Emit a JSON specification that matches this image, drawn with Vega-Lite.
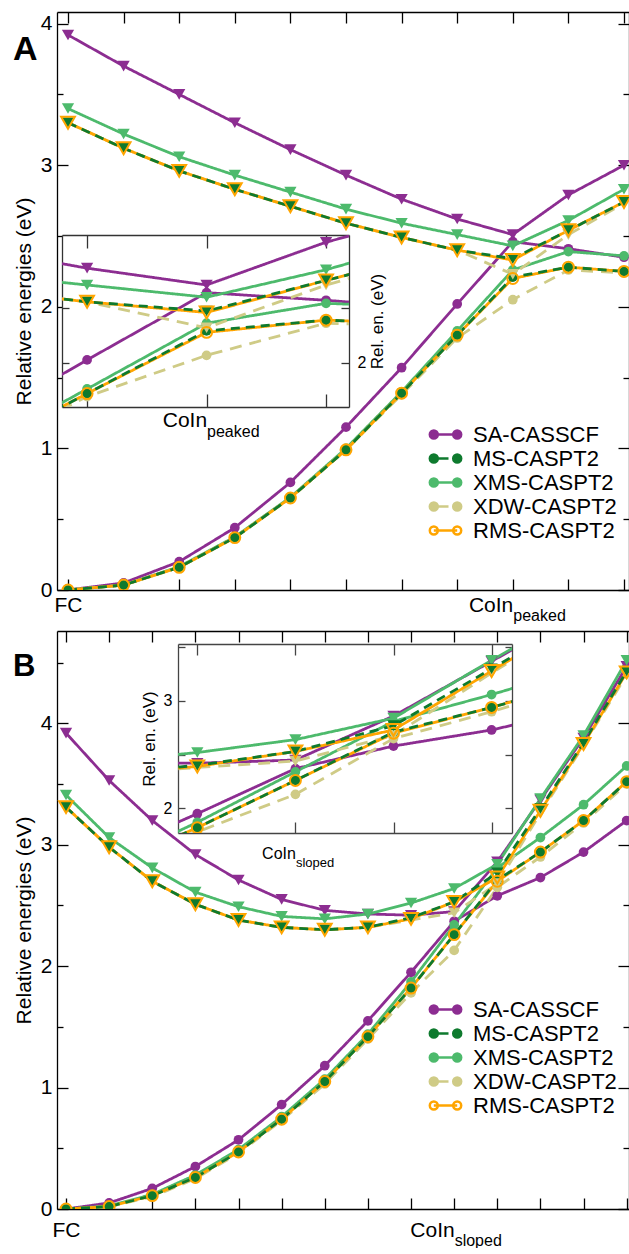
{
"$schema":"https://vega.github.io/schema/vega-lite/v6.json",
"padding":{"left":13,"top":11,"right":0,"bottom":0},
"config":{
 "view":{"stroke":null},
 "font":"Liberation Sans",
 "axis":{"grid":false,"domainColor":"#000","domainWidth":1.3,"tickColor":"#000","tickWidth":1.3,"labelColor":"#000","titleColor":"#000","labelFont":"Liberation Sans","titleFont":"Liberation Sans","titleFontWeight":"normal","labelFlush":false,"labelOverlap":false},
 "legend":{"labelFont":"Liberation Sans"},
 "title":{"font":"Liberation Sans"}
},
"datasets":{"d":[
{"p":"A","m":"SA-CASSCF","s":"up","i":0,"v":3.92},{"p":"A","m":"SA-CASSCF","s":"up","i":1,"v":3.70},{"p":"A","m":"SA-CASSCF","s":"up","i":2,"v":3.50},{"p":"A","m":"SA-CASSCF","s":"up","i":3,"v":3.30},{"p":"A","m":"SA-CASSCF","s":"up","i":4,"v":3.11},{"p":"A","m":"SA-CASSCF","s":"up","i":5,"v":2.93},{"p":"A","m":"SA-CASSCF","s":"up","i":6,"v":2.76},{"p":"A","m":"SA-CASSCF","s":"up","i":7,"v":2.62},{"p":"A","m":"SA-CASSCF","s":"up","i":8,"v":2.51},{"p":"A","m":"SA-CASSCF","s":"up","i":9,"v":2.79},{"p":"A","m":"SA-CASSCF","s":"up","i":10,"v":3.00},
{"p":"A","m":"SA-CASSCF","s":"lo","i":0,"v":0},{"p":"A","m":"SA-CASSCF","s":"lo","i":1,"v":0.05},{"p":"A","m":"SA-CASSCF","s":"lo","i":2,"v":0.20},{"p":"A","m":"SA-CASSCF","s":"lo","i":3,"v":0.44},{"p":"A","m":"SA-CASSCF","s":"lo","i":4,"v":0.76},{"p":"A","m":"SA-CASSCF","s":"lo","i":5,"v":1.15},{"p":"A","m":"SA-CASSCF","s":"lo","i":6,"v":1.57},{"p":"A","m":"SA-CASSCF","s":"lo","i":7,"v":2.02},{"p":"A","m":"SA-CASSCF","s":"lo","i":8,"v":2.46},{"p":"A","m":"SA-CASSCF","s":"lo","i":9,"v":2.41},{"p":"A","m":"SA-CASSCF","s":"lo","i":10,"v":2.35},
{"p":"A","m":"XMS-CASPT2","s":"up","i":0,"v":3.40},{"p":"A","m":"XMS-CASPT2","s":"up","i":1,"v":3.22},{"p":"A","m":"XMS-CASPT2","s":"up","i":2,"v":3.06},{"p":"A","m":"XMS-CASPT2","s":"up","i":3,"v":2.93},{"p":"A","m":"XMS-CASPT2","s":"up","i":4,"v":2.81},{"p":"A","m":"XMS-CASPT2","s":"up","i":5,"v":2.69},{"p":"A","m":"XMS-CASPT2","s":"up","i":6,"v":2.59},{"p":"A","m":"XMS-CASPT2","s":"up","i":7,"v":2.51},{"p":"A","m":"XMS-CASPT2","s":"up","i":8,"v":2.43},{"p":"A","m":"XMS-CASPT2","s":"up","i":9,"v":2.61},{"p":"A","m":"XMS-CASPT2","s":"up","i":10,"v":2.83},
{"p":"A","m":"XMS-CASPT2","s":"lo","i":0,"v":0},{"p":"A","m":"XMS-CASPT2","s":"lo","i":1,"v":0.035},{"p":"A","m":"XMS-CASPT2","s":"lo","i":2,"v":0.165},{"p":"A","m":"XMS-CASPT2","s":"lo","i":3,"v":0.375},{"p":"A","m":"XMS-CASPT2","s":"lo","i":4,"v":0.655},{"p":"A","m":"XMS-CASPT2","s":"lo","i":5,"v":1.00},{"p":"A","m":"XMS-CASPT2","s":"lo","i":6,"v":1.40},{"p":"A","m":"XMS-CASPT2","s":"lo","i":7,"v":1.83},{"p":"A","m":"XMS-CASPT2","s":"lo","i":8,"v":2.26},{"p":"A","m":"XMS-CASPT2","s":"lo","i":9,"v":2.39},{"p":"A","m":"XMS-CASPT2","s":"lo","i":10,"v":2.36},
{"p":"A","m":"XDW-CASPT2","s":"up","i":0,"v":3.30},{"p":"A","m":"XDW-CASPT2","s":"up","i":1,"v":3.12},{"p":"A","m":"XDW-CASPT2","s":"up","i":2,"v":2.96},{"p":"A","m":"XDW-CASPT2","s":"up","i":3,"v":2.83},{"p":"A","m":"XDW-CASPT2","s":"up","i":4,"v":2.71},{"p":"A","m":"XDW-CASPT2","s":"up","i":5,"v":2.59},{"p":"A","m":"XDW-CASPT2","s":"up","i":6,"v":2.49},{"p":"A","m":"XDW-CASPT2","s":"up","i":7,"v":2.40},{"p":"A","m":"XDW-CASPT2","s":"up","i":8,"v":2.23},{"p":"A","m":"XDW-CASPT2","s":"up","i":9,"v":2.51},{"p":"A","m":"XDW-CASPT2","s":"up","i":10,"v":2.73},
{"p":"A","m":"XDW-CASPT2","s":"lo","i":0,"v":0},{"p":"A","m":"XDW-CASPT2","s":"lo","i":1,"v":0.035},{"p":"A","m":"XDW-CASPT2","s":"lo","i":2,"v":0.16},{"p":"A","m":"XDW-CASPT2","s":"lo","i":3,"v":0.37},{"p":"A","m":"XDW-CASPT2","s":"lo","i":4,"v":0.65},{"p":"A","m":"XDW-CASPT2","s":"lo","i":5,"v":0.99},{"p":"A","m":"XDW-CASPT2","s":"lo","i":6,"v":1.38},{"p":"A","m":"XDW-CASPT2","s":"lo","i":7,"v":1.78},{"p":"A","m":"XDW-CASPT2","s":"lo","i":8,"v":2.05},{"p":"A","m":"XDW-CASPT2","s":"lo","i":9,"v":2.26},{"p":"A","m":"XDW-CASPT2","s":"lo","i":10,"v":2.24},
{"p":"A","m":"RMS-CASPT2","s":"up","i":0,"v":3.30},{"p":"A","m":"RMS-CASPT2","s":"up","i":1,"v":3.12},{"p":"A","m":"RMS-CASPT2","s":"up","i":2,"v":2.96},{"p":"A","m":"RMS-CASPT2","s":"up","i":3,"v":2.83},{"p":"A","m":"RMS-CASPT2","s":"up","i":4,"v":2.71},{"p":"A","m":"RMS-CASPT2","s":"up","i":5,"v":2.59},{"p":"A","m":"RMS-CASPT2","s":"up","i":6,"v":2.49},{"p":"A","m":"RMS-CASPT2","s":"up","i":7,"v":2.40},{"p":"A","m":"RMS-CASPT2","s":"up","i":8,"v":2.33},{"p":"A","m":"RMS-CASPT2","s":"up","i":9,"v":2.54},{"p":"A","m":"RMS-CASPT2","s":"up","i":10,"v":2.74},
{"p":"A","m":"RMS-CASPT2","s":"lo","i":0,"v":0},{"p":"A","m":"RMS-CASPT2","s":"lo","i":1,"v":0.035},{"p":"A","m":"RMS-CASPT2","s":"lo","i":2,"v":0.16},{"p":"A","m":"RMS-CASPT2","s":"lo","i":3,"v":0.37},{"p":"A","m":"RMS-CASPT2","s":"lo","i":4,"v":0.65},{"p":"A","m":"RMS-CASPT2","s":"lo","i":5,"v":0.99},{"p":"A","m":"RMS-CASPT2","s":"lo","i":6,"v":1.39},{"p":"A","m":"RMS-CASPT2","s":"lo","i":7,"v":1.80},{"p":"A","m":"RMS-CASPT2","s":"lo","i":8,"v":2.20},{"p":"A","m":"RMS-CASPT2","s":"lo","i":9,"v":2.28},{"p":"A","m":"RMS-CASPT2","s":"lo","i":10,"v":2.25},
{"p":"A","m":"MS-CASPT2","s":"up","i":0,"v":3.30},{"p":"A","m":"MS-CASPT2","s":"up","i":1,"v":3.12},{"p":"A","m":"MS-CASPT2","s":"up","i":2,"v":2.96},{"p":"A","m":"MS-CASPT2","s":"up","i":3,"v":2.83},{"p":"A","m":"MS-CASPT2","s":"up","i":4,"v":2.71},{"p":"A","m":"MS-CASPT2","s":"up","i":5,"v":2.59},{"p":"A","m":"MS-CASPT2","s":"up","i":6,"v":2.49},{"p":"A","m":"MS-CASPT2","s":"up","i":7,"v":2.40},{"p":"A","m":"MS-CASPT2","s":"up","i":8,"v":2.34},{"p":"A","m":"MS-CASPT2","s":"up","i":9,"v":2.54},{"p":"A","m":"MS-CASPT2","s":"up","i":10,"v":2.74},
{"p":"A","m":"MS-CASPT2","s":"lo","i":0,"v":0},{"p":"A","m":"MS-CASPT2","s":"lo","i":1,"v":0.035},{"p":"A","m":"MS-CASPT2","s":"lo","i":2,"v":0.16},{"p":"A","m":"MS-CASPT2","s":"lo","i":3,"v":0.37},{"p":"A","m":"MS-CASPT2","s":"lo","i":4,"v":0.65},{"p":"A","m":"MS-CASPT2","s":"lo","i":5,"v":0.99},{"p":"A","m":"MS-CASPT2","s":"lo","i":6,"v":1.39},{"p":"A","m":"MS-CASPT2","s":"lo","i":7,"v":1.80},{"p":"A","m":"MS-CASPT2","s":"lo","i":8,"v":2.21},{"p":"A","m":"MS-CASPT2","s":"lo","i":9,"v":2.28},{"p":"A","m":"MS-CASPT2","s":"lo","i":10,"v":2.25},
{"p":"B","m":"SA-CASSCF","s":"up","i":0,"v":3.92},{"p":"B","m":"SA-CASSCF","s":"up","i":1,"v":3.53},{"p":"B","m":"SA-CASSCF","s":"up","i":2,"v":3.20},{"p":"B","m":"SA-CASSCF","s":"up","i":3,"v":2.92},{"p":"B","m":"SA-CASSCF","s":"up","i":4,"v":2.71},{"p":"B","m":"SA-CASSCF","s":"up","i":5,"v":2.55},{"p":"B","m":"SA-CASSCF","s":"up","i":6,"v":2.46},{"p":"B","m":"SA-CASSCF","s":"up","i":7,"v":2.43},{"p":"B","m":"SA-CASSCF","s":"up","i":8,"v":2.42},{"p":"B","m":"SA-CASSCF","s":"up","i":9,"v":2.45},{"p":"B","m":"SA-CASSCF","s":"up","i":10,"v":2.86},{"p":"B","m":"SA-CASSCF","s":"up","i":11,"v":3.37},{"p":"B","m":"SA-CASSCF","s":"up","i":12,"v":3.88},{"p":"B","m":"SA-CASSCF","s":"up","i":13,"v":4.47},
{"p":"B","m":"SA-CASSCF","s":"lo","i":0,"v":0},{"p":"B","m":"SA-CASSCF","s":"lo","i":1,"v":0.05},{"p":"B","m":"SA-CASSCF","s":"lo","i":2,"v":0.17},{"p":"B","m":"SA-CASSCF","s":"lo","i":3,"v":0.35},{"p":"B","m":"SA-CASSCF","s":"lo","i":4,"v":0.57},{"p":"B","m":"SA-CASSCF","s":"lo","i":5,"v":0.86},{"p":"B","m":"SA-CASSCF","s":"lo","i":6,"v":1.18},{"p":"B","m":"SA-CASSCF","s":"lo","i":7,"v":1.55},{"p":"B","m":"SA-CASSCF","s":"lo","i":8,"v":1.95},{"p":"B","m":"SA-CASSCF","s":"lo","i":9,"v":2.37},{"p":"B","m":"SA-CASSCF","s":"lo","i":10,"v":2.58},{"p":"B","m":"SA-CASSCF","s":"lo","i":11,"v":2.73},{"p":"B","m":"SA-CASSCF","s":"lo","i":12,"v":2.94},{"p":"B","m":"SA-CASSCF","s":"lo","i":13,"v":3.20},
{"p":"B","m":"XMS-CASPT2","s":"up","i":0,"v":3.41},{"p":"B","m":"XMS-CASPT2","s":"up","i":1,"v":3.06},{"p":"B","m":"XMS-CASPT2","s":"up","i":2,"v":2.81},{"p":"B","m":"XMS-CASPT2","s":"up","i":3,"v":2.61},{"p":"B","m":"XMS-CASPT2","s":"up","i":4,"v":2.49},{"p":"B","m":"XMS-CASPT2","s":"up","i":5,"v":2.41},{"p":"B","m":"XMS-CASPT2","s":"up","i":6,"v":2.39},{"p":"B","m":"XMS-CASPT2","s":"up","i":7,"v":2.43},{"p":"B","m":"XMS-CASPT2","s":"up","i":8,"v":2.52},{"p":"B","m":"XMS-CASPT2","s":"up","i":9,"v":2.64},{"p":"B","m":"XMS-CASPT2","s":"up","i":10,"v":2.84},{"p":"B","m":"XMS-CASPT2","s":"up","i":11,"v":3.38},{"p":"B","m":"XMS-CASPT2","s":"up","i":12,"v":3.90},{"p":"B","m":"XMS-CASPT2","s":"up","i":13,"v":4.52},
{"p":"B","m":"XMS-CASPT2","s":"lo","i":0,"v":0},{"p":"B","m":"XMS-CASPT2","s":"lo","i":1,"v":0.025},{"p":"B","m":"XMS-CASPT2","s":"lo","i":2,"v":0.12},{"p":"B","m":"XMS-CASPT2","s":"lo","i":3,"v":0.28},{"p":"B","m":"XMS-CASPT2","s":"lo","i":4,"v":0.49},{"p":"B","m":"XMS-CASPT2","s":"lo","i":5,"v":0.76},{"p":"B","m":"XMS-CASPT2","s":"lo","i":6,"v":1.07},{"p":"B","m":"XMS-CASPT2","s":"lo","i":7,"v":1.44},{"p":"B","m":"XMS-CASPT2","s":"lo","i":8,"v":1.87},{"p":"B","m":"XMS-CASPT2","s":"lo","i":9,"v":2.34},{"p":"B","m":"XMS-CASPT2","s":"lo","i":10,"v":2.81},{"p":"B","m":"XMS-CASPT2","s":"lo","i":11,"v":3.06},{"p":"B","m":"XMS-CASPT2","s":"lo","i":12,"v":3.33},{"p":"B","m":"XMS-CASPT2","s":"lo","i":13,"v":3.65},
{"p":"B","m":"XDW-CASPT2","s":"up","i":0,"v":3.31},{"p":"B","m":"XDW-CASPT2","s":"up","i":1,"v":2.98},{"p":"B","m":"XDW-CASPT2","s":"up","i":2,"v":2.70},{"p":"B","m":"XDW-CASPT2","s":"up","i":3,"v":2.51},{"p":"B","m":"XDW-CASPT2","s":"up","i":4,"v":2.38},{"p":"B","m":"XDW-CASPT2","s":"up","i":5,"v":2.32},{"p":"B","m":"XDW-CASPT2","s":"up","i":6,"v":2.30},{"p":"B","m":"XDW-CASPT2","s":"up","i":7,"v":2.32},{"p":"B","m":"XDW-CASPT2","s":"up","i":8,"v":2.38},{"p":"B","m":"XDW-CASPT2","s":"up","i":9,"v":2.44},{"p":"B","m":"XDW-CASPT2","s":"up","i":10,"v":2.68},{"p":"B","m":"XDW-CASPT2","s":"up","i":11,"v":3.26},{"p":"B","m":"XDW-CASPT2","s":"up","i":12,"v":3.82},{"p":"B","m":"XDW-CASPT2","s":"up","i":13,"v":4.40},
{"p":"B","m":"XDW-CASPT2","s":"lo","i":0,"v":0},{"p":"B","m":"XDW-CASPT2","s":"lo","i":1,"v":0.02},{"p":"B","m":"XDW-CASPT2","s":"lo","i":2,"v":0.10},{"p":"B","m":"XDW-CASPT2","s":"lo","i":3,"v":0.25},{"p":"B","m":"XDW-CASPT2","s":"lo","i":4,"v":0.46},{"p":"B","m":"XDW-CASPT2","s":"lo","i":5,"v":0.73},{"p":"B","m":"XDW-CASPT2","s":"lo","i":6,"v":1.03},{"p":"B","m":"XDW-CASPT2","s":"lo","i":7,"v":1.40},{"p":"B","m":"XDW-CASPT2","s":"lo","i":8,"v":1.78},{"p":"B","m":"XDW-CASPT2","s":"lo","i":9,"v":2.13},{"p":"B","m":"XDW-CASPT2","s":"lo","i":10,"v":2.65},{"p":"B","m":"XDW-CASPT2","s":"lo","i":11,"v":2.90},{"p":"B","m":"XDW-CASPT2","s":"lo","i":12,"v":3.18},{"p":"B","m":"XDW-CASPT2","s":"lo","i":13,"v":3.50},
{"p":"B","m":"RMS-CASPT2","s":"up","i":0,"v":3.31},{"p":"B","m":"RMS-CASPT2","s":"up","i":1,"v":2.98},{"p":"B","m":"RMS-CASPT2","s":"up","i":2,"v":2.70},{"p":"B","m":"RMS-CASPT2","s":"up","i":3,"v":2.51},{"p":"B","m":"RMS-CASPT2","s":"up","i":4,"v":2.38},{"p":"B","m":"RMS-CASPT2","s":"up","i":5,"v":2.32},{"p":"B","m":"RMS-CASPT2","s":"up","i":6,"v":2.30},{"p":"B","m":"RMS-CASPT2","s":"up","i":7,"v":2.32},{"p":"B","m":"RMS-CASPT2","s":"up","i":8,"v":2.39},{"p":"B","m":"RMS-CASPT2","s":"up","i":9,"v":2.53},{"p":"B","m":"RMS-CASPT2","s":"up","i":10,"v":2.73},{"p":"B","m":"RMS-CASPT2","s":"up","i":11,"v":3.28},{"p":"B","m":"RMS-CASPT2","s":"up","i":12,"v":3.83},{"p":"B","m":"RMS-CASPT2","s":"up","i":13,"v":4.42},
{"p":"B","m":"RMS-CASPT2","s":"lo","i":0,"v":0},{"p":"B","m":"RMS-CASPT2","s":"lo","i":1,"v":0.02},{"p":"B","m":"RMS-CASPT2","s":"lo","i":2,"v":0.11},{"p":"B","m":"RMS-CASPT2","s":"lo","i":3,"v":0.26},{"p":"B","m":"RMS-CASPT2","s":"lo","i":4,"v":0.47},{"p":"B","m":"RMS-CASPT2","s":"lo","i":5,"v":0.74},{"p":"B","m":"RMS-CASPT2","s":"lo","i":6,"v":1.05},{"p":"B","m":"RMS-CASPT2","s":"lo","i":7,"v":1.42},{"p":"B","m":"RMS-CASPT2","s":"lo","i":8,"v":1.82},{"p":"B","m":"RMS-CASPT2","s":"lo","i":9,"v":2.26},{"p":"B","m":"RMS-CASPT2","s":"lo","i":10,"v":2.70},{"p":"B","m":"RMS-CASPT2","s":"lo","i":11,"v":2.94},{"p":"B","m":"RMS-CASPT2","s":"lo","i":12,"v":3.20},{"p":"B","m":"RMS-CASPT2","s":"lo","i":13,"v":3.52},
{"p":"B","m":"MS-CASPT2","s":"up","i":0,"v":3.31},{"p":"B","m":"MS-CASPT2","s":"up","i":1,"v":2.98},{"p":"B","m":"MS-CASPT2","s":"up","i":2,"v":2.70},{"p":"B","m":"MS-CASPT2","s":"up","i":3,"v":2.51},{"p":"B","m":"MS-CASPT2","s":"up","i":4,"v":2.38},{"p":"B","m":"MS-CASPT2","s":"up","i":5,"v":2.32},{"p":"B","m":"MS-CASPT2","s":"up","i":6,"v":2.30},{"p":"B","m":"MS-CASPT2","s":"up","i":7,"v":2.32},{"p":"B","m":"MS-CASPT2","s":"up","i":8,"v":2.40},{"p":"B","m":"MS-CASPT2","s":"up","i":9,"v":2.53},{"p":"B","m":"MS-CASPT2","s":"up","i":10,"v":2.77},{"p":"B","m":"MS-CASPT2","s":"up","i":11,"v":3.30},{"p":"B","m":"MS-CASPT2","s":"up","i":12,"v":3.84},{"p":"B","m":"MS-CASPT2","s":"up","i":13,"v":4.43},
{"p":"B","m":"MS-CASPT2","s":"lo","i":0,"v":0},{"p":"B","m":"MS-CASPT2","s":"lo","i":1,"v":0.02},{"p":"B","m":"MS-CASPT2","s":"lo","i":2,"v":0.11},{"p":"B","m":"MS-CASPT2","s":"lo","i":3,"v":0.26},{"p":"B","m":"MS-CASPT2","s":"lo","i":4,"v":0.47},{"p":"B","m":"MS-CASPT2","s":"lo","i":5,"v":0.74},{"p":"B","m":"MS-CASPT2","s":"lo","i":6,"v":1.05},{"p":"B","m":"MS-CASPT2","s":"lo","i":7,"v":1.42},{"p":"B","m":"MS-CASPT2","s":"lo","i":8,"v":1.82},{"p":"B","m":"MS-CASPT2","s":"lo","i":9,"v":2.26},{"p":"B","m":"MS-CASPT2","s":"lo","i":10,"v":2.71},{"p":"B","m":"MS-CASPT2","s":"lo","i":11,"v":2.94},{"p":"B","m":"MS-CASPT2","s":"lo","i":12,"v":3.20},{"p":"B","m":"MS-CASPT2","s":"lo","i":13,"v":3.52}
]},
"vconcat":[
 {"vconcat":[
  {"vconcat":[
   {"width":572,"height":578,
    "title":{"text":"A","anchor":"start","frame":"group","fontSize":34,"fontWeight":"bold","offset":0,"dx":-44,"dy":83,"baseline":"alphabetic","color":"#000"},
    "data":{"name":"d"},
    "layer":[
     {"transform":[{"filter":"datum.p=='A'"}],
      "mark":{"type":"line","strokeWidth":2.8,"clip":true},
      "encoding":{
       "x":{"field":"i","type":"quantitative","scale":{"domain":[-0.198,10.09],"nice":false,"zero":false},"axis":{"orient":"bottom","values":[0,1,2,3,4,5,6,7,8,9,10],"tickSize":-11,"labelExpr":"datum.value==0?'FC':datum.value==8?'CoIn':''","labelAlign":{"condition":{"test":"datum.value==8","value":"right"},"value":"center"},"labelFontSize":21,"labelPadding":15,"title":null}},
       "y":{"field":"v","type":"quantitative","scale":{"domain":[0,4.082],"nice":false,"zero":false},"axis":{"orient":"left","values":[0,1,2,3,4],"tickSize":-11,"labelFontSize":21,"labelPadding":16,"title":"Relative energies (eV)","titleFontSize":21,"titlePadding":6}},
       "color":{"field":"m","type":"nominal","scale":{"domain":["SA-CASSCF","MS-CASPT2","XMS-CASPT2","XDW-CASPT2","RMS-CASPT2"],"range":["#8C2D91","#0E7A2E","#4DBA6C","#CFCB86","#FFA500"]},"legend":null},
       "strokeDash":{"field":"m","type":"nominal","scale":{"domain":["SA-CASSCF","MS-CASPT2","XMS-CASPT2","XDW-CASPT2","RMS-CASPT2"],"range":[[1,0],[9,6],[1,0],[12,8],[1,0]]},"legend":null},
       "detail":{"field":"s","type":"nominal"}}},
     {"transform":[{"filter":"datum.p=='A'&&datum.s=='lo'&&datum.m!='RMS-CASPT2'"}],
      "mark":{"type":"point","shape":"circle","filled":true,"size":95,"opacity":1,"clip":true},
      "encoding":{
       "x":{"field":"i","type":"quantitative","axis":{"orient":"top","values":[0,1,2,3,4,5,6,7,8,9,10],"tickSize":-11,"labels":false,"title":null}},
       "y":{"field":"v","type":"quantitative","axis":{"orient":"right","values":[0,1,2,3,4],"tickSize":-11,"labels":false,"title":null}},
       "color":{"field":"m","type":"nominal","legend":null}}},
     {"transform":[{"filter":"datum.p=='A'&&datum.s=='up'&&datum.m!='RMS-CASPT2'"}],
      "mark":{"type":"point","shape":"triangle-down","filled":true,"size":150,"opacity":1,"clip":true},
      "encoding":{
       "x":{"field":"i","type":"quantitative","axis":{"orient":"bottom","values":[8],"ticks":false,"domain":false,"labelExpr":"'peaked'","labelAlign":"left","labelBaseline":"alphabetic","labelFontSize":16,"labelPadding":30,"title":null}},
       "y":{"field":"v","type":"quantitative","axis":{"orient":"left","values":[0.5,1.5,2.5,3.5],"tickSize":-6,"labels":false,"domain":false,"title":null}},
       "color":{"field":"m","type":"nominal","legend":null}}},
     {"transform":[{"filter":"datum.p=='A'&&datum.s=='lo'&&datum.m=='RMS-CASPT2'"}],
      "mark":{"type":"point","shape":"circle","filled":false,"size":120,"strokeWidth":2,"opacity":1,"clip":true},
      "encoding":{
       "x":{"field":"i","type":"quantitative","axis":null},
       "y":{"field":"v","type":"quantitative","axis":{"orient":"right","values":[0.5,1.5,2.5,3.5],"tickSize":-6,"labels":false,"domain":false,"title":null}},
       "color":{"field":"m","type":"nominal","legend":null}}},
     {"transform":[{"filter":"datum.p=='A'&&datum.s=='up'&&datum.m=='RMS-CASPT2'"}],
      "mark":{"type":"point","shape":"triangle-down","filled":false,"size":190,"strokeWidth":2,"opacity":1,"clip":true},
      "encoding":{
       "x":{"field":"i","type":"quantitative","axis":null},
       "y":{"field":"v","type":"quantitative","axis":null},
       "color":{"field":"m","type":"nominal","legend":null}}},
     {"transform":[{"filter":"datum.p=='none'"}],
      "mark":{"type":"point","filled":true,"strokeWidth":2.5,"opacity":1},
      "encoding":{
       "stroke":{"field":"m","type":"nominal","scale":{"domain":["SA-CASSCF","MS-CASPT2","XMS-CASPT2","XDW-CASPT2","RMS-CASPT2"],"range":["#8C2D91","#0E7A2E","#4DBA6C","#CFCB86","#FFA500"]},"legend":{"title":null,"orient":"none","legendX":377,"legendY":411,"padding":0,"symbolSize":400,"symbolStrokeWidth":2.5,"labelFontSize":22,"labelOffset":16,"rowPadding":1,"labelColor":"#000"}},
       "fill":{"field":"m","type":"nominal","scale":{"domain":["SA-CASSCF","MS-CASPT2","XMS-CASPT2","XDW-CASPT2","RMS-CASPT2"],"range":["#8C2D91","#0E7A2E","#4DBA6C","#CFCB86","#ffffff"]},"legend":{"title":null,"orient":"none","legendX":377,"legendY":411,"padding":0,"symbolSize":400,"symbolStrokeWidth":2.5,"labelFontSize":22,"labelOffset":16,"rowPadding":1,"labelColor":"#000"}},
       "shape":{"field":"m","type":"nominal","scale":{"domain":["SA-CASSCF","MS-CASPT2","XMS-CASPT2","XDW-CASPT2","RMS-CASPT2"],"range":["M-1.57,0A0.4,0.4,0,1,0,-0.77,0A0.4,0.4,0,1,0,-1.57,0ZM0.77,0A0.4,0.4,0,1,0,1.57,0A0.4,0.4,0,1,0,0.77,0ZM-1.17,0L1.17,0","M-1.57,0A0.4,0.4,0,1,0,-0.77,0A0.4,0.4,0,1,0,-1.57,0ZM0.77,0A0.4,0.4,0,1,0,1.57,0A0.4,0.4,0,1,0,0.77,0ZM-1.17,0L0.3,0","M-1.57,0A0.4,0.4,0,1,0,-0.77,0A0.4,0.4,0,1,0,-1.57,0ZM0.77,0A0.4,0.4,0,1,0,1.57,0A0.4,0.4,0,1,0,0.77,0ZM-1.17,0L1.17,0","M-1.57,0A0.4,0.4,0,1,0,-0.77,0A0.4,0.4,0,1,0,-1.57,0ZM0.77,0A0.4,0.4,0,1,0,1.57,0A0.4,0.4,0,1,0,0.77,0ZM-1.17,0L0.3,0","M-1.57,0A0.4,0.4,0,1,0,-0.77,0A0.4,0.4,0,1,0,-1.57,0ZM0.77,0A0.4,0.4,0,1,0,1.57,0A0.4,0.4,0,1,0,0.77,0ZM-1.17,0L1.17,0"]},"legend":{"title":null,"orient":"none","legendX":377,"legendY":411,"padding":0,"symbolSize":400,"symbolStrokeWidth":2.5,"labelFontSize":22,"labelOffset":16,"rowPadding":1,"labelColor":"#000"}}}}
    ],
    "resolve":{"axis":{"x":"independent","y":"independent"}}
   }
  ],"bounds":"flush"},
  {"vconcat":[
   {"width":5,"height":223,"data":{"values":[]},"mark":{"type":"point","opacity":0}},
   {"hconcat":[
    {"width":5,"height":5,"data":{"values":[]},"mark":{"type":"point","opacity":0}},
    {"width":287,"height":172,
     "view":{"fill":"white"},
     "data":{"name":"d"},
     "layer":[
      {"transform":[{"filter":"datum.p=='A'"}],
       "mark":{"type":"line","strokeWidth":2.8,"clip":true},
       "encoding":{
        "x":{"field":"i","type":"quantitative","scale":{"domain":[6.79,9.192],"nice":false,"zero":false},"axis":{"orient":"bottom","values":[7,8,9],"tickSize":-13,"labelExpr":"datum.value==8?'CoIn':''","labelAlign":"right","labelFontSize":21,"labelPadding":15,"domainColor":"#333","tickColor":"#333","title":null}},
        "y":{"field":"v","type":"quantitative","scale":{"domain":[1.712,2.837],"nice":false,"zero":false},"axis":{"orient":"left","values":[2,2.36],"tickSize":-7,"labels":false,"domainColor":"#333","tickColor":"#333","title":null}},
        "color":{"field":"m","type":"nominal","legend":null},
        "strokeDash":{"field":"m","type":"nominal","legend":null},
        "detail":{"field":"s","type":"nominal"}}},
      {"transform":[{"filter":"datum.p=='A'&&datum.s=='lo'&&datum.m!='RMS-CASPT2'"}],
       "mark":{"type":"point","shape":"circle","filled":true,"size":95,"opacity":1,"clip":true},
       "encoding":{
        "x":{"field":"i","type":"quantitative","axis":{"orient":"top","values":[7,8,9],"tickSize":-13,"labels":false,"domainColor":"#333","tickColor":"#333","title":null}},
        "y":{"field":"v","type":"quantitative","axis":{"orient":"right","values":[2,2.36],"tickSize":-8,"labelExpr":"datum.value==2?'2':''","labelFontSize":16,"labelPadding":16,"domainColor":"#333","tickColor":"#333","title":"Rel. en. (eV)","titleFontSize":17,"titleAngle":270,"titleBaseline":"top","titlePadding":4}},
        "color":{"field":"m","type":"nominal","legend":null}}},
      {"transform":[{"filter":"datum.p=='A'&&datum.s=='up'&&datum.m!='RMS-CASPT2'"}],
       "mark":{"type":"point","shape":"triangle-down","filled":true,"size":150,"opacity":1,"clip":true},
       "encoding":{
        "x":{"field":"i","type":"quantitative","axis":{"orient":"bottom","values":[8],"ticks":false,"domain":false,"labelExpr":"'peaked'","labelAlign":"left","labelBaseline":"alphabetic","labelFontSize":16,"labelPadding":29,"title":null}},
        "y":{"field":"v","type":"quantitative","axis":null},
        "color":{"field":"m","type":"nominal","legend":null}}},
      {"transform":[{"filter":"datum.p=='A'&&datum.s=='lo'&&datum.m=='RMS-CASPT2'"}],
       "mark":{"type":"point","shape":"circle","filled":false,"size":120,"strokeWidth":2,"opacity":1,"clip":true},
       "encoding":{
        "x":{"field":"i","type":"quantitative","axis":null},
        "y":{"field":"v","type":"quantitative","axis":null},
        "color":{"field":"m","type":"nominal","legend":null}}},
      {"transform":[{"filter":"datum.p=='A'&&datum.s=='up'&&datum.m=='RMS-CASPT2'"}],
       "mark":{"type":"point","shape":"triangle-down","filled":false,"size":190,"strokeWidth":2,"opacity":1,"clip":true},
       "encoding":{
        "x":{"field":"i","type":"quantitative","axis":null},
        "y":{"field":"v","type":"quantitative","axis":null},
        "color":{"field":"m","type":"nominal","legend":null}}}
     ],
     "resolve":{"axis":{"x":"independent","y":"independent"}}
    }
   ],"spacing":0,"bounds":"flush"}
  ],"spacing":0,"bounds":"flush"}
 ],"spacing":0,"bounds":"flush"},
 {"vconcat":[
  {"vconcat":[
   {"width":572,"height":578,
    "title":{"text":"B","anchor":"start","frame":"group","fontSize":31,"fontWeight":"bold","offset":0,"dx":-44,"dy":77,"baseline":"alphabetic","color":"#000"},
    "data":{"name":"d"},
    "layer":[
     {"transform":[{"filter":"datum.p=='B'"}],
      "mark":{"type":"line","strokeWidth":2.8,"clip":true},
      "encoding":{
       "x":{"field":"i","type":"quantitative","scale":{"domain":[-0.209,13.054],"nice":false,"zero":false},"axis":{"orient":"bottom","values":[0,1,2,3,4,5,6,7,8,9,10,11,12,13],"tickSize":-11,"labelExpr":"datum.value==0?'FC':datum.value==9?'CoIn':''","labelAlign":{"condition":{"test":"datum.value==9","value":"right"},"value":"center"},"labelFontSize":21,"labelPadding":21,"title":null}},
       "y":{"field":"v","type":"quantitative","scale":{"domain":[0,4.761],"nice":false,"zero":false},"axis":{"orient":"left","values":[0,1,2,3,4],"tickSize":-11,"labelFontSize":21,"labelPadding":16,"title":"Relative energies (eV)","titleFontSize":21,"titlePadding":6}},
       "color":{"field":"m","type":"nominal","scale":{"domain":["SA-CASSCF","MS-CASPT2","XMS-CASPT2","XDW-CASPT2","RMS-CASPT2"],"range":["#8C2D91","#0E7A2E","#4DBA6C","#CFCB86","#FFA500"]},"legend":null},
       "strokeDash":{"field":"m","type":"nominal","scale":{"domain":["SA-CASSCF","MS-CASPT2","XMS-CASPT2","XDW-CASPT2","RMS-CASPT2"],"range":[[1,0],[9,6],[1,0],[12,8],[1,0]]},"legend":null},
       "detail":{"field":"s","type":"nominal"}}},
     {"transform":[{"filter":"datum.p=='B'&&datum.s=='lo'&&datum.m!='RMS-CASPT2'"}],
      "mark":{"type":"point","shape":"circle","filled":true,"size":95,"opacity":1,"clip":true},
      "encoding":{
       "x":{"field":"i","type":"quantitative","axis":{"orient":"top","values":[0,1,2,3,4,5,6,7,8,9,10,11,12,13],"tickSize":-11,"labels":false,"title":null}},
       "y":{"field":"v","type":"quantitative","axis":{"orient":"right","values":[0,1,2,3,4],"tickSize":-11,"labels":false,"title":null}},
       "color":{"field":"m","type":"nominal","legend":null}}},
     {"transform":[{"filter":"datum.p=='B'&&datum.s=='up'&&datum.m!='RMS-CASPT2'"}],
      "mark":{"type":"point","shape":"triangle-down","filled":true,"size":150,"opacity":1,"clip":true},
      "encoding":{
       "x":{"field":"i","type":"quantitative","axis":{"orient":"bottom","values":[9],"ticks":false,"domain":false,"labelExpr":"'sloped'","labelAlign":"left","labelBaseline":"alphabetic","labelFontSize":16,"labelPadding":36,"title":null}},
       "y":{"field":"v","type":"quantitative","axis":{"orient":"left","values":[0.5,1.5,2.5,3.5,4.5],"tickSize":-6,"labels":false,"domain":false,"title":null}},
       "color":{"field":"m","type":"nominal","legend":null}}},
     {"transform":[{"filter":"datum.p=='B'&&datum.s=='lo'&&datum.m=='RMS-CASPT2'"}],
      "mark":{"type":"point","shape":"circle","filled":false,"size":120,"strokeWidth":2,"opacity":1,"clip":true},
      "encoding":{
       "x":{"field":"i","type":"quantitative","axis":null},
       "y":{"field":"v","type":"quantitative","axis":{"orient":"right","values":[0.5,1.5,2.5,3.5,4.5],"tickSize":-6,"labels":false,"domain":false,"title":null}},
       "color":{"field":"m","type":"nominal","legend":null}}},
     {"transform":[{"filter":"datum.p=='B'&&datum.s=='up'&&datum.m=='RMS-CASPT2'"}],
      "mark":{"type":"point","shape":"triangle-down","filled":false,"size":190,"strokeWidth":2,"opacity":1,"clip":true},
      "encoding":{
       "x":{"field":"i","type":"quantitative","axis":null},
       "y":{"field":"v","type":"quantitative","axis":null},
       "color":{"field":"m","type":"nominal","legend":null}}},
     {"transform":[{"filter":"datum.p=='none'"}],
      "mark":{"type":"point","filled":true,"strokeWidth":2.5,"opacity":1},
      "encoding":{
       "stroke":{"field":"m","type":"nominal","scale":{"domain":["SA-CASSCF","MS-CASPT2","XMS-CASPT2","XDW-CASPT2","RMS-CASPT2"],"range":["#8C2D91","#0E7A2E","#4DBA6C","#CFCB86","#FFA500"]},"legend":{"title":null,"orient":"none","legendX":377,"legendY":367,"padding":0,"symbolSize":400,"symbolStrokeWidth":2.5,"labelFontSize":22,"labelOffset":16,"rowPadding":1,"labelColor":"#000"}},
       "fill":{"field":"m","type":"nominal","scale":{"domain":["SA-CASSCF","MS-CASPT2","XMS-CASPT2","XDW-CASPT2","RMS-CASPT2"],"range":["#8C2D91","#0E7A2E","#4DBA6C","#CFCB86","#ffffff"]},"legend":{"title":null,"orient":"none","legendX":377,"legendY":367,"padding":0,"symbolSize":400,"symbolStrokeWidth":2.5,"labelFontSize":22,"labelOffset":16,"rowPadding":1,"labelColor":"#000"}},
       "shape":{"field":"m","type":"nominal","scale":{"domain":["SA-CASSCF","MS-CASPT2","XMS-CASPT2","XDW-CASPT2","RMS-CASPT2"],"range":["M-1.57,0A0.4,0.4,0,1,0,-0.77,0A0.4,0.4,0,1,0,-1.57,0ZM0.77,0A0.4,0.4,0,1,0,1.57,0A0.4,0.4,0,1,0,0.77,0ZM-1.17,0L1.17,0","M-1.57,0A0.4,0.4,0,1,0,-0.77,0A0.4,0.4,0,1,0,-1.57,0ZM0.77,0A0.4,0.4,0,1,0,1.57,0A0.4,0.4,0,1,0,0.77,0ZM-1.17,0L0.3,0","M-1.57,0A0.4,0.4,0,1,0,-0.77,0A0.4,0.4,0,1,0,-1.57,0ZM0.77,0A0.4,0.4,0,1,0,1.57,0A0.4,0.4,0,1,0,0.77,0ZM-1.17,0L1.17,0","M-1.57,0A0.4,0.4,0,1,0,-0.77,0A0.4,0.4,0,1,0,-1.57,0ZM0.77,0A0.4,0.4,0,1,0,1.57,0A0.4,0.4,0,1,0,0.77,0ZM-1.17,0L0.3,0","M-1.57,0A0.4,0.4,0,1,0,-0.77,0A0.4,0.4,0,1,0,-1.57,0ZM0.77,0A0.4,0.4,0,1,0,1.57,0A0.4,0.4,0,1,0,0.77,0ZM-1.17,0L1.17,0"]},"legend":{"title":null,"orient":"none","legendX":377,"legendY":367,"padding":0,"symbolSize":400,"symbolStrokeWidth":2.5,"labelFontSize":22,"labelOffset":16,"rowPadding":1,"labelColor":"#000"}}}}
    ],
    "resolve":{"axis":{"x":"independent","y":"independent"}}
   }
  ],"bounds":"flush"},
  {"vconcat":[
   {"width":5,"height":13,"data":{"values":[]},"mark":{"type":"point","opacity":0}},
   {"hconcat":[
    {"width":121,"height":5,"data":{"values":[]},"mark":{"type":"point","opacity":0}},
    {"width":334,"height":189,
     "view":{"fill":"white"},
     "data":{"name":"d"},
     "layer":[
      {"transform":[{"filter":"datum.p=='B'"}],
       "mark":{"type":"line","strokeWidth":2.8,"clip":true},
       "encoding":{
        "x":{"field":"i","type":"quantitative","scale":{"domain":[7.803,11.208],"nice":false,"zero":false},"axis":{"orient":"bottom","values":[8,9,10,11],"tickSize":-11,"labelExpr":"datum.value==9?'CoIn':''","labelAlign":"right","labelFontSize":16,"labelPadding":23,"domainColor":"#444","tickColor":"#444","title":null}},
        "y":{"field":"v","type":"quantitative","scale":{"domain":[1.770,3.531],"nice":false,"zero":false},"axis":{"orient":"left","values":[2,2.5,3,3.5],"tickSize":-7,"labelExpr":"datum.value==2?'2':datum.value==3?'3':''","labelFontSize":16,"labelPadding":13,"domainColor":"#444","tickColor":"#444","title":"Rel. en. (eV)","titleFontSize":17,"titlePadding":5}},
        "color":{"field":"m","type":"nominal","legend":null},
        "strokeDash":{"field":"m","type":"nominal","legend":null},
        "detail":{"field":"s","type":"nominal"}}},
      {"transform":[{"filter":"datum.p=='B'&&datum.s=='lo'&&datum.m!='RMS-CASPT2'"}],
       "mark":{"type":"point","shape":"circle","filled":true,"size":95,"opacity":1,"clip":true},
       "encoding":{
        "x":{"field":"i","type":"quantitative","axis":{"orient":"top","values":[8,9,10,11],"tickSize":-11,"labels":false,"domainColor":"#444","tickColor":"#444","title":null}},
        "y":{"field":"v","type":"quantitative","axis":{"orient":"right","values":[2,2.5,3,3.5],"tickSize":-7,"labels":false,"domainColor":"#444","tickColor":"#444","title":null}},
        "color":{"field":"m","type":"nominal","legend":null}}},
      {"transform":[{"filter":"datum.p=='B'&&datum.s=='up'&&datum.m!='RMS-CASPT2'"}],
       "mark":{"type":"point","shape":"triangle-down","filled":true,"size":150,"opacity":1,"clip":true},
       "encoding":{
        "x":{"field":"i","type":"quantitative","axis":{"orient":"bottom","values":[9],"ticks":false,"domain":false,"labelExpr":"'sloped'","labelAlign":"left","labelBaseline":"alphabetic","labelFontSize":13,"labelPadding":33,"title":null}},
        "y":{"field":"v","type":"quantitative","axis":null},
        "color":{"field":"m","type":"nominal","legend":null}}},
      {"transform":[{"filter":"datum.p=='B'&&datum.s=='lo'&&datum.m=='RMS-CASPT2'"}],
       "mark":{"type":"point","shape":"circle","filled":false,"size":120,"strokeWidth":2,"opacity":1,"clip":true},
       "encoding":{
        "x":{"field":"i","type":"quantitative","axis":null},
        "y":{"field":"v","type":"quantitative","axis":null},
        "color":{"field":"m","type":"nominal","legend":null}}},
      {"transform":[{"filter":"datum.p=='B'&&datum.s=='up'&&datum.m=='RMS-CASPT2'"}],
       "mark":{"type":"point","shape":"triangle-down","filled":false,"size":190,"strokeWidth":2,"opacity":1,"clip":true},
       "encoding":{
        "x":{"field":"i","type":"quantitative","axis":null},
        "y":{"field":"v","type":"quantitative","axis":null},
        "color":{"field":"m","type":"nominal","legend":null}}}
     ],
     "resolve":{"axis":{"x":"independent","y":"independent"}}
    }
   ],"spacing":0,"bounds":"flush"}
  ],"spacing":0,"bounds":"flush"}
 ],"spacing":0,"bounds":"flush"}
],
"spacing":619,
"bounds":"flush",
"resolve":{"scale":{"stroke":"independent","fill":"independent","shape":"independent"},"legend":{"stroke":"independent","fill":"independent","shape":"independent"}}
}
